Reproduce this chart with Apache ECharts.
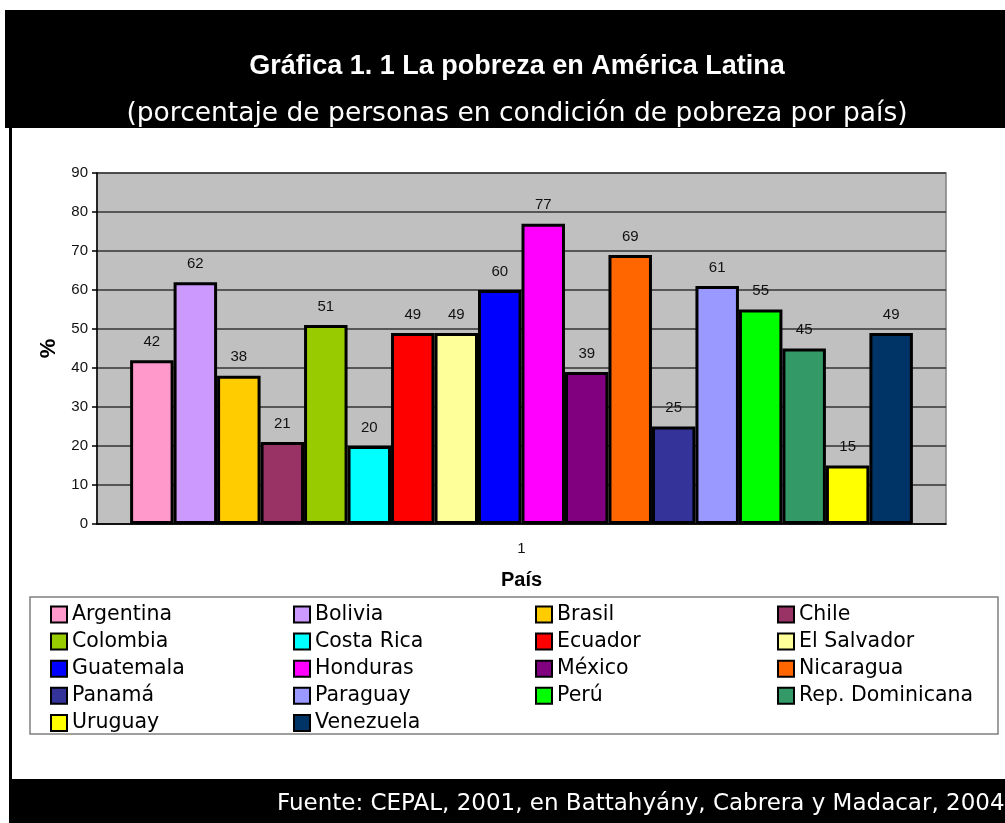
<!DOCTYPE html>
<html>
<head>
<meta charset="utf-8">
<script src="https://cdn.jsdelivr.net/npm/echarts@6/dist/echarts.min.js"></script>
<style>
  html, body { margin: 0; padding: 0; background: #fff; }
  #chart { width: 1005px; height: 823px; }
</style>
</head>
<body>
<div id="chart"></div>
<script>
var countries = ['Argentina', 'Bolivia', 'Brasil', 'Chile', 'Colombia', 'Costa Rica',
  'Ecuador', 'El Salvador', 'Guatemala', 'Honduras', 'México', 'Nicaragua',
  'Panamá', 'Paraguay', 'Perú', 'Rep. Dominicana', 'Uruguay', 'Venezuela'];
var pobreza = [42, 62, 38, 21, 51, 20, 49, 49, 60, 77, 39, 69, 25, 61, 55, 45, 15, 49];
var colores = ['#FF99CC', '#CC99FF', '#FFCC00', '#993366', '#99CC00', '#00FFFF',
  '#FF0000', '#FFFF99', '#0000FF', '#FF00FF', '#800080', '#FF6600',
  '#333399', '#9999FF', '#00FF00', '#339966', '#FFFF00', '#003366'];
var categorias = ['1'];

(function () {
  var myChart = echarts.init(document.getElementById('chart'));
  var arial = 'Arial';

  var series = countries.map(function (name, i) {
    return {
      name: name,
      type: 'bar',
      data: [pobreza[i]],
      barGap: '0%',
      barCategoryGap: '7.8%',
      itemStyle: { color: colores[i], borderColor: '#000', borderWidth: 3 },
      label: {
        show: true, position: 'top', distance: 11,
        color: '#111', fontSize: 15, fontFamily: arial
      }
    };
  });

  // legend in 4 columns, filled row by row
  var legendCols = [45, 288, 530, 772];
  var legends = legendCols.map(function (x, c) {
    return {
      orient: 'vertical',
      left: x, top: 599,
      itemWidth: 16, itemHeight: 16, itemGap: 6.1,
      icon: 'rect',
      selectedMode: false,
      data: countries.filter(function (n, i) { return i % 4 === c; }),
      itemStyle: { borderColor: '#000', borderWidth: 2 },
      textStyle: { fontSize: 20.5, color: '#000', padding: [0, 0, 0, 0],
        fontFamily: 'DejaVu Sans' }
    };
  });

  option = {
    backgroundColor: '#fff',
    animation: false,
    title: [
      {
        text: 'Gráfica 1. 1 La pobreza en América Latina',
        left: 512, top: 48, textAlign: 'center',
        textStyle: { color: '#fff', fontSize: 27, fontWeight: 'bold', fontFamily: arial }
      },
      {
        text: '(porcentaje de personas en condición de pobreza por país)',
        left: 512, top: 96, textAlign: 'center',
        textStyle: { color: '#fff', fontSize: 26.5, fontWeight: 'normal', fontFamily: 'DejaVu Sans' }
      },
      {
        text: 'Fuente: CEPAL, 2001, en Battahyány, Cabrera y Madacar, 2004',
        left: 272, top: 788,
        textStyle: { color: '#fff', fontSize: 23, fontWeight: 'normal', fontFamily: 'DejaVu Sans' }
      }
    ],
    graphic: [
      { type: 'rect', z: -10, shape: { x: 5, y: 10, width: 1000, height: 118 }, style: { fill: '#000' } },
      { type: 'rect', z: -10, shape: { x: 9, y: 128, width: 3, height: 652 }, style: { fill: '#000' } },
      { type: 'rect', z: -10, shape: { x: 9, y: 779, width: 996, height: 44 }, style: { fill: '#000' } },
      { type: 'rect', z: -10, shape: { x: 30, y: 597, width: 968, height: 137 },
        style: { fill: '#fff', stroke: '#808080', lineWidth: 1.5 } }
    ],
    legend: legends,
    grid: {
      left: 97, right: 59, top: 173, bottom: 299,
      show: true, backgroundColor: '#C0C0C0', borderColor: '#808080', borderWidth: 1.5
    },
    xAxis: {
      type: 'category',
      data: categorias,
      name: 'País',
      nameLocation: 'middle',
      nameGap: 46,
      nameTextStyle: { fontSize: 20, fontWeight: 'bold', color: '#000', fontFamily: arial },
      axisLine: { lineStyle: { color: '#000', width: 1.5 } },
      axisTick: { show: false },
      axisLabel: { margin: 17, fontSize: 15, color: '#111', fontFamily: arial }
    },
    yAxis: {
      type: 'value',
      min: 0, max: 90, interval: 10,
      name: '%',
      nameLocation: 'middle',
      nameGap: 36,
      nameTextStyle: { fontSize: 22, fontWeight: 'bold', color: '#000', fontFamily: arial },
      axisLine: { show: true, lineStyle: { color: '#000', width: 1.5 } },
      axisTick: { show: true, length: 5, lineStyle: { color: '#000', width: 1.5 } },
      axisLabel: { margin: 9, fontSize: 15, color: '#111', fontFamily: arial },
      splitLine: { lineStyle: { color: '#333', width: 1.5 } }
    },
    series: series
  };

  myChart.setOption(option);
})();
</script>
</body>
</html>
